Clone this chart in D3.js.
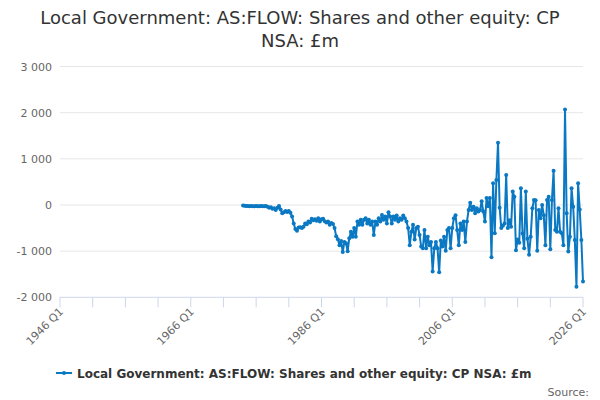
<!DOCTYPE html>
<html><head><meta charset="utf-8">
<script src="https://cdn.jsdelivr.net/npm/d3@7"></script>
<style>body{margin:0;background:#fff;}svg{display:block;font-family:"DejaVu Sans",Verdana,sans-serif;}</style>
</head><body><svg id="c" width="600" height="400"></svg>
<script>
const titleLines = ["Local Government: AS:FLOW: Shares and other equity: CP", "NSA: £m"];
const seriesName = "Local Government: AS:FLOW: Shares and other equity: CP NSA: £m";
const startYear = 1974, startQuarter = 1;
const values = [
 -10,-15,-20,-20,-25,-20,-30,-25,-20,-25,-30,-20,-25,-30,
 -20,-40,-60,-50,-80,-70,-110,-60,-20,-100,-180,-160,-130,-150,-130,-170,
 -250,-400,-520,-560,-490,-480,-500,-470,-400,-420,-360,-380,-300,-330,-310,-340,-290,-360,-310,-300,-350,-380,-360,-430,
 -390,-410,-500,-680,-740,-870,-780,-1020,-800,-830,-1000,-720,-580,-690,-500,-690,-360,-430,-320,-430,-320,-290,-400,-320,-430,-360,-650,-360,-430,-290,-360,-215,-320,-250,-400,-160,-250,-400,-250,-320,-230,-360,-290,-320,-230,-290,-360,-500,-870,-580,-430,-750,-500,-470,-650,-900,
 -940,-540,-940,-690,-870,-800,-1440,-940,-800,-940,-1460,-770,-900,-690,-990,-540,-500,-940,-500,-290,-220,-540,-870,-400,-540,-360,-800,-360,-110,50,-110,-40,-180,-70,-140,-110,
 80,-140,-360,150,-30,150,-1130,470,-610,540,1350,-60,-500,-450,-400,650,-500,-330,-470,290,180,-980,-750,-820,360,-620,-940,290,-730,-1080,-690,-70,110,
 100,-990,-110,-290,0,-220,-870,110,180,-960,110,740,-540,-580,-70,-580,-610,-870,2070,-180,-1010,-690,360,-40,-760,-1770,470,-100,-760,-1660
];
const yTicks = [-2000,-1000,0,1000,2000,3000];
const xMinorTicks = [1946,1951,1956,1961,1966,1971,1976,1981,1986,1991,1996,2001,2006,2011,2016,2021,2026];
const xLabelTicks = [1946,1966,1986,2006,2026];

const color = "#0a78c2";
const svg = d3.select("#c");
const plotLeft = 60, plotRight = 583, plotTop = 66.5, plotBottom = 297.3;

const data = values.map((v,i)=>{
  const q0 = (startQuarter-1)+i;
  const yr = startYear + Math.floor(q0/4), q = q0%4+1;
  return {t: yr + (q-1)/4, label: yr+" Q"+q, v};
});

const x = d3.scaleLinear().domain([1946,2026]).range([plotLeft,plotRight]);
const y = d3.scaleLinear().domain([-2000,3000]).range([plotBottom,plotTop]);

// title
svg.append("text").attr("x",300).attr("text-anchor","middle").attr("fill","#333")
  .style("font-size","18px")
  .selectAll("tspan").data(titleLines).join("tspan")
  .attr("x",300).attr("y",(d,i)=>24+i*23).text(d=>d);

// grid
svg.append("g").selectAll("line").data(yTicks.filter(d=>d!==-2000)).join("line")
  .attr("x1",plotLeft).attr("x2",plotRight).attr("y1",d=>y(d)).attr("y2",d=>y(d))
  .attr("stroke","#e6e6e6").attr("stroke-width",1);

// y labels
svg.append("g").selectAll("text").data(yTicks).join("text")
  .attr("x",52).attr("y",d=>y(d)+4).attr("text-anchor","end")
  .attr("fill","#666").style("font-size","11px")
  .text(d=>d3.format(",")(d).replace(/,/g," ").replace("−","-"));

// x axis
const xa = svg.append("g").attr("transform",`translate(0,${plotBottom})`);
xa.append("line").attr("x1",plotLeft).attr("x2",plotRight).attr("stroke","#ccd6eb");
xa.selectAll("line.t").data(xMinorTicks).join("line").attr("class","t")
  .attr("x1",d=>x(d)).attr("x2",d=>x(d)).attr("y1",0).attr("y2",10).attr("stroke","#ccd6eb");
xa.selectAll("text").data(xLabelTicks).join("text")
  .attr("text-anchor","end").attr("fill","#666").style("font-size","11px")
  .attr("transform",d=>`translate(${x(d)+4},${15}) rotate(-45)`)
  .text(d=>d+" Q1");

// line
const line = d3.line().x(d=>x(d.t)).y(d=>y(d.v));
svg.append("path").datum(data).attr("d",line).attr("fill","none")
  .attr("stroke",color).attr("stroke-width",2).attr("stroke-linejoin","round");
svg.append("g").selectAll("circle").data(data).join("circle")
  .attr("cx",d=>x(d.t)).attr("cy",d=>y(d.v)).attr("r",2).attr("fill",color);

// legend
const lg = svg.append("g").attr("transform","translate(0,373)");
lg.append("line").attr("x1",56).attr("x2",72).attr("stroke",color).attr("stroke-width",2);
lg.append("circle").attr("cx",64).attr("cy",0).attr("r",2).attr("fill",color);
lg.append("text").attr("x",77).attr("y",4.5).attr("fill","#333")
  .style("font-size","12px").style("font-weight","bold").text(seriesName);

svg.append("text").attr("x",589).attr("y",396).attr("text-anchor","end")
  .attr("fill","#666").style("font-size","11px").text("Source:");
</script></body></html>
